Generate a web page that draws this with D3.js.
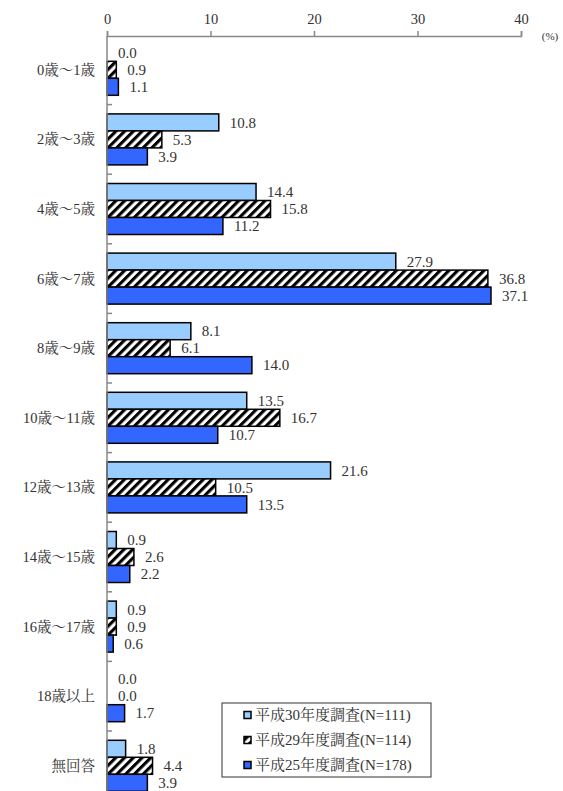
<!DOCTYPE html>
<html>
<head>
<meta charset="utf-8">
<script src="https://cdn.jsdelivr.net/npm/d3@7"></script>
<style>
  html, body { margin: 0; padding: 0; background: #fff; }
</style>
</head>
<body>
<svg id="chart" width="563" height="791"></svg>
<script>
const categories = ["0歳～1歳","2歳～3歳","4歳～5歳","6歳～7歳","8歳～9歳","10歳～11歳","12歳～13歳","14歳～15歳","16歳～17歳","18歳以上","無回答"];
const seriesNames = ["平成30年度調査(N=111)","平成29年度調査(N=114)","平成25年度調査(N=178)"];
const h30 = [0.0, 10.8, 14.4, 27.9, 8.1, 13.5, 21.6, 0.9, 0.9, 0.0, 1.8];
const h29 = [0.9, 5.3, 15.8, 36.8, 6.1, 16.7, 10.5, 2.6, 0.9, 0.0, 4.4];
const h25 = [1.1, 3.9, 11.2, 37.1, 14.0, 10.7, 13.5, 2.2, 0.6, 1.7, 3.9];
const xTicks = [0, 10, 20, 30, 40];
const unitLabel = "(%)";

const seriesValues = [h30, h29, h25];
const fills = ["#99CCFF", "url(#hatch)", "#3366FF"];
const FONT = '"Liberation Serif", "Noto Serif CJK JP", serif';
const TEXT = "#333";

const svg = d3.select("#chart");
const defs = svg.append("defs");
const pat = defs.append("pattern")
  .attr("id", "hatch")
  .attr("patternUnits", "userSpaceOnUse")
  .attr("width", 6.2).attr("height", 6.2)
  .attr("patternTransform", "rotate(45)");
pat.append("rect").attr("width", 6.2).attr("height", 6.2).attr("fill", "#fff");
pat.append("rect").attr("width", 3.1).attr("height", 6.2).attr("fill", "#000");

const x = d3.scaleLinear().domain([0, 40]).range([107, 521]);
const y0 = d3.scaleBand().domain(categories).range([35, 800.6]).padding(0);
const y1 = d3.scaleBand().domain([0, 1, 2]).range([0, y0.bandwidth()]).paddingInner(0).paddingOuter(0.547);

// top axis
const axisColor = "#888";
const xAxis = svg.append("g").attr("transform", "translate(0,36)")
  .call(d3.axisTop(x).tickValues(xTicks).tickSize(5).tickPadding(7));
xAxis.select(".domain").attr("stroke", axisColor).attr("stroke-width", 1.5);
xAxis.selectAll(".tick line").attr("stroke", axisColor).attr("stroke-width", 1.5);
xAxis.selectAll(".tick text")
  .style("font-family", FONT).style("font-size", "14.5px").style("fill", TEXT);

svg.append("text").attr("x", 550).attr("y", 40).attr("text-anchor", "middle")
  .style("font-family", FONT).style("font-size", "11px").style("fill", TEXT)
  .text(unitLabel);

// bars
const groups = svg.append("g").selectAll("g").data(categories).join("g")
  .attr("transform", d => `translate(0,${y0(d)})`);

groups.each(function(cat, ci) {
  const g = d3.select(this);
  seriesValues.forEach((vals, si) => {
    const v = vals[ci];
    const w = x(v) - x(0);
    if (w > 0) {
      g.append("rect")
        .attr("x", x(0)).attr("y", y1(si))
        .attr("width", w).attr("height", y1.bandwidth())
        .attr("fill", fills[si]).attr("stroke", "#000").attr("stroke-width", 1.5);
    }
    g.append("text")
      .attr("x", x(v) + 11)
      .attr("y", y1(si) + y1.bandwidth() / 2)
      .attr("dy", "0.35em")
      .style("font-family", FONT).style("font-size", "15px").style("fill", TEXT)
      .text(v.toFixed(1));
  });
});

// left axis
const yAxis = svg.append("g").attr("transform", `translate(${x(0)},0)`);
yAxis.append("line").attr("x1", 0).attr("x2", 0).attr("y1", 36).attr("y2", 791)
  .attr("stroke", axisColor).attr("stroke-width", 1.5);
yAxis.selectAll("line.bt").data(categories.slice(1)).join("line").attr("class", "bt")
  .attr("x1", 0).attr("x2", 5)
  .attr("y1", d => y0(d)).attr("y2", d => y0(d))
  .attr("stroke", axisColor).attr("stroke-width", 1.5);

svg.append("g").selectAll("text").data(categories).join("text")
  .attr("x", 95).attr("y", d => y0(d) + y0.bandwidth() / 2)
  .attr("dy", "0.35em").attr("text-anchor", "end")
  .style("font-family", FONT).style("font-size", "14.5px").style("fill", TEXT)
  .text(d => d);

// legend
const lg = svg.append("g");
lg.append("rect").attr("x", 222).attr("y", 703).attr("width", 209).attr("height", 74)
  .attr("fill", "#fff").attr("stroke", "#333").attr("stroke-width", 1);
seriesNames.forEach((name, i) => {
  const cy = 715 + i * 25;
  lg.append("rect").attr("x", 244).attr("y", cy - 3.5).attr("width", 7).attr("height", 7)
    .attr("fill", fills[i]).attr("stroke", "#000").attr("stroke-width", 1.5);
  lg.append("text").attr("x", 255).attr("y", cy).attr("dy", "0.35em")
    .style("font-family", FONT).style("font-size", "15px").style("fill", TEXT)
    .text(name);
});
</script>
</body>
</html>
